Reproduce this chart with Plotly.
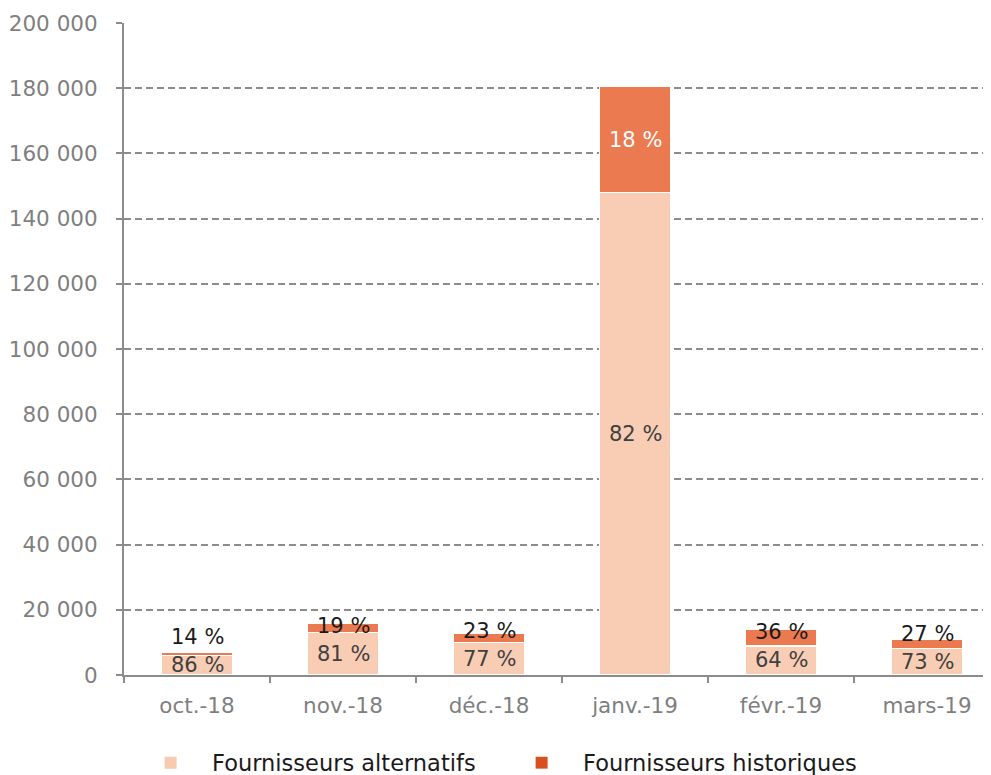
import plotly.graph_objects as go

months = ["oct.-18", "nov.-18", "déc.-18", "janv.-19", "févr.-19", "mars-19"]
alternatifs = [6000, 13000, 9900, 148000, 8900, 8100]
historiques = [1000, 3000, 3000, 32500, 5000, 3000]
pct_alt = ["86 %", "81 %", "77 %", "82 %", "64 %", "73 %"]
pct_hist = ["14 %", "19 %", "23 %", "18 %", "36 %", "27 %"]
y_ticks = [0, 20000, 40000, 60000, 80000, 100000, 120000, 140000, 160000, 180000, 200000]
y_tick_text = ["0", "20 000", "40 000", "60 000", "80 000", "100 000", "120 000",
               "140 000", "160 000", "180 000", "200 000"]
series_names = ["Fournisseurs alternatifs", "Fournisseurs historiques"]

FONT = "DejaVu Sans"
C_ALT = "#F8CDB4"
C_HIST = "#EC7A50"
C_ALT_LEG = "#F8CAB0"
C_HIST_LEG = "#D8501F"
GRID = "#8C8C8C"
PAD = "\u00a0\u00a0\u00a0"

fig = go.Figure()
fig.add_trace(go.Bar(x=months, y=alternatifs, marker=dict(color=C_ALT, line=dict(color="white", width=1.5)),
                     width=0.49, showlegend=False, hoverinfo="skip"))
fig.add_trace(go.Bar(x=months, y=historiques, marker=dict(color=C_HIST, line=dict(color="white", width=1.5)),
                     width=0.49, showlegend=False, hoverinfo="skip"))
fig.add_trace(go.Scatter(x=[None], y=[None], mode="markers", name=PAD + series_names[0],
                         marker=dict(symbol="square", size=12, color=C_ALT_LEG)))
fig.add_trace(go.Scatter(x=[None], y=[None], mode="markers", name=PAD + series_names[1],
                         marker=dict(symbol="square", size=12, color=C_HIST_LEG)))

annotations = []
for m, a, h, pa, ph in zip(months, alternatifs, historiques, pct_alt, pct_hist):
    annotations.append(dict(x=m, y=a / 2, text=pa, showarrow=False,
                            font=dict(family=FONT, size=21, color="#404040")))
    if h > 10000:
        annotations.append(dict(x=m, y=a + h / 2, text=ph, showarrow=False,
                                font=dict(family=FONT, size=21, color="white")))
    else:
        annotations.append(dict(x=m, y=a / 2, yshift=28, text=ph, showarrow=False,
                                font=dict(family=FONT, size=21, color="#1a1a1a")))

fig.update_layout(
    width=983, height=767,
    margin=dict(l=116, r=0, t=15, b=100, autoexpand=False),
    paper_bgcolor="white", plot_bgcolor="white",
    barmode="stack",
    font=dict(family=FONT, color="#7F7F7F", size=21),
    annotations=annotations,
    legend=dict(orientation="h", x=0.0307, xanchor="left", y=-0.135, yanchor="middle",
                traceorder="normal",
                font=dict(family=FONT, size=22.5, color="#1a1a1a"),
                entrywidth=326, entrywidthmode="pixels"),
)
fig.update_xaxes(type="category", range=[-0.5, 5.438], showline=True, linecolor=GRID, linewidth=2,
                 ticks="outside", ticklen=6, tickcolor=GRID, tickwidth=2, tickson="boundaries",
                 showgrid=False, automargin=False, ticklabelstandoff=10,
                 tickfont=dict(size=21.5, color="#7F7F7F"))
fig.update_yaxes(range=[0, 200000], tickvals=y_ticks, ticktext=y_tick_text, showline=True,
                 linecolor=GRID, linewidth=2, ticks="outside", ticklen=6, tickcolor=GRID, tickwidth=2,
                 showgrid=True, gridcolor=GRID, gridwidth=1.6, griddash="7px,4px", zeroline=False,
                 automargin=False, ticklabelstandoff=14,
                 tickfont=dict(size=21.5, color="#7F7F7F"))

fig.write_html("out.html")
